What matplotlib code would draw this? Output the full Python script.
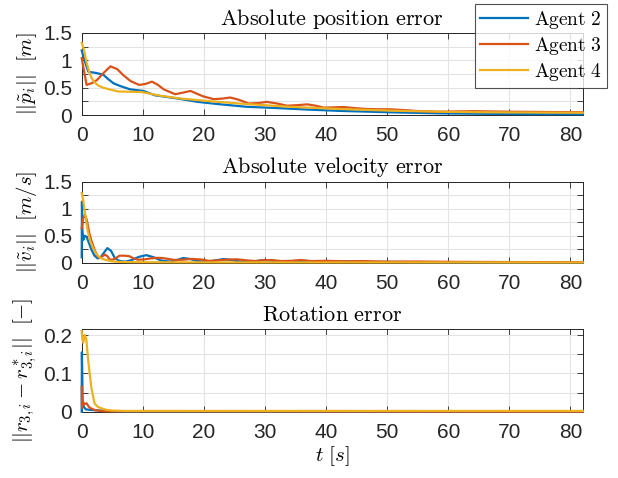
import matplotlib
matplotlib.use("Agg")
import matplotlib.pyplot as plt
from matplotlib.ticker import FixedLocator, FixedFormatter

plt.rcParams['font.family'] = ['Liberation Sans', 'DejaVu Sans']
plt.rcParams['mathtext.fontset'] = 'cm'

agents = ['Agent 2', 'Agent 3', 'Agent 4']
colors = ['#0072BD', '#D95319', '#EDB120']

# position error
t_pos_a2 = [0, 0.6, 1.1, 2.3, 3.5, 4.3, 5.2, 6.3, 7.9, 10.1, 12, 15.8, 19, 22.3, 27, 31.4, 36.9,
            42.3, 50.5, 58.7, 66, 74, 82]
pos_a2 = [1.18, 0.95, 0.79, 0.77, 0.74, 0.66, 0.58, 0.53, 0.47, 0.44, 0.36, 0.30, 0.24, 0.20, 0.15,
          0.13, 0.10, 0.075, 0.05, 0.03, 0.022, 0.016, 0.013]
t_pos_a3 = [0, 0.8, 1.6, 2.5, 3.5, 4.7, 5.8, 6.8, 8, 9.4, 10.5, 11.5, 12.5, 13.4, 15.3, 16.6, 17.8,
            19.9, 21.6, 23, 24.3, 25.7, 27.3, 29, 30.3, 32, 33.6, 35.3, 36.9, 38.3, 39.6, 41.2,
            42.8, 44.8, 46.7, 48.6, 50.5, 52.8, 55, 58.7, 64, 70, 76, 82]
pos_a3 = [1.04, 0.55, 0.58, 0.64, 0.76, 0.89, 0.84, 0.73, 0.62, 0.55, 0.57, 0.61, 0.55, 0.47,
          0.38, 0.41, 0.44, 0.34, 0.29, 0.30, 0.32, 0.28, 0.21, 0.22, 0.24, 0.21, 0.17, 0.18,
          0.195, 0.17, 0.135, 0.14, 0.146, 0.125, 0.11, 0.105, 0.104, 0.09, 0.073, 0.06, 0.07,
          0.06, 0.055, 0.05]
t_pos_a4 = [0, 0.4, 0.75, 1.2, 1.6, 2.1, 2.7, 3.5, 4.3, 6, 8, 9.8, 13, 16.3, 21.2, 27, 34.1, 42.3,
            50.5, 58.7, 66, 74, 82]
pos_a4 = [1.32, 1.18, 0.98, 0.80, 0.68, 0.60, 0.54, 0.50, 0.475, 0.43, 0.425, 0.42, 0.35, 0.30,
          0.25, 0.20, 0.15, 0.11, 0.08, 0.06, 0.05, 0.045, 0.042]

# velocity error
t_vel_a2 = [0, 0.04, 0.12, 0.25, 0.5, 0.8, 1.2, 1.6, 2.1, 2.6, 3.1, 3.6, 4.2, 4.8, 5.4, 6.2, 7.2,
            8.2, 9.4, 10.6, 11.8, 13, 14.5, 15.6, 16.6, 17.7, 19, 20.5, 21.8, 23.2, 24.6, 26,
            27.5, 28.8, 30, 31.3, 33, 34.8, 36.3, 38, 40, 42, 44, 47, 50, 55, 62, 70, 82]
vel_a2 = [0.1, 1.13, 0.6, 0.42, 0.5, 0.48, 0.36, 0.24, 0.13, 0.08, 0.1, 0.18, 0.27, 0.22, 0.09,
          0.03, 0.02, 0.05, 0.11, 0.14, 0.1, 0.04, 0.02, 0.05, 0.087, 0.07, 0.03, 0.015, 0.04,
          0.068, 0.05, 0.02, 0.015, 0.035, 0.05, 0.035, 0.012, 0.015, 0.035, 0.025, 0.01, 0.02,
          0.025, 0.012, 0.015, 0.01, 0.008, 0.006, 0.005]
t_vel_a3 = [0, 0.2, 0.5, 0.8, 1.3, 1.7, 2.1, 2.5, 2.95, 3.4, 3.8, 4.2, 4.6, 5.2, 6.2, 7.0, 7.8,
            8.5, 9.2, 10.2, 11.3, 12.3, 13.2, 14.2, 15.2, 16.5, 18, 19.5, 20.8, 22, 23.5, 25.4,
            27.3, 28.5, 29.5, 31, 32.7, 34.3, 35.8, 37.5, 40, 43, 46, 50, 55, 62, 70, 82]
vel_a3 = [0.64, 0.8, 0.89, 0.8, 0.52, 0.37, 0.24, 0.14, 0.087, 0.12, 0.15, 0.12, 0.056, 0.06,
          0.13, 0.13, 0.12, 0.08, 0.056, 0.06, 0.08, 0.09, 0.087, 0.07, 0.05, 0.055, 0.07, 0.06,
          0.035, 0.04, 0.055, 0.063, 0.04, 0.03, 0.045, 0.05, 0.03, 0.035, 0.05, 0.03, 0.035,
          0.025, 0.03, 0.02, 0.022, 0.015, 0.012, 0.01]
t_vel_a4 = [0, 0.25, 0.5, 0.75, 1.0, 1.4, 1.85, 2.3, 2.7, 3.2, 3.8, 4.9, 6, 8, 12, 20, 40, 82]
vel_a4 = [1.29, 1.15, 0.95, 0.76, 0.58, 0.40, 0.27, 0.18, 0.12, 0.08, 0.056, 0.026, 0.015, 0.01,
          0.008, 0.006, 0.005, 0.005]

# rotation error
t_rot_a2 = [0, 0.03, 0.15, 0.35, 0.7, 1.2, 2, 3, 4.5, 6, 10, 82]
rot_a2 = [0.0, 0.155, 0.03, 0.012, 0.006, 0.005, 0.004, 0.003, 0.002, 0.001, 0.0005, 0.0]
t_rot_a3 = [0, 0.05, 0.2, 0.5, 0.8, 1.2, 1.6, 2.2, 3, 4, 82]
rot_a3 = [0.065, 0.01, 0.025, 0.02, 0.022, 0.012, 0.008, 0.004, 0.002, 0.001, 0.0]
t_rot_a4 = [0, 0.1, 0.25, 0.5, 0.75, 1.03, 1.3, 1.6, 2.1, 2.6, 3.2, 4, 5, 7, 82]
rot_a4 = [0.21, 0.19, 0.18, 0.2, 0.19, 0.139, 0.10, 0.061, 0.022, 0.013, 0.009, 0.005, 0.003,
          0.002, 0.002]

x_ticks = [0, 10, 20, 30, 40, 50, 60, 70, 80]

fig = plt.figure(figsize=(6.18, 4.78), dpi=100)
ax1 = fig.add_axes([0.1322, 0.7594, 0.8107, 0.1716])
ax2 = fig.add_axes([0.1322, 0.4504, 0.8107, 0.1695])
ax3 = fig.add_axes([0.1322, 0.1387, 0.8107, 0.1730])

panels = [
    (ax1, [(t_pos_a2, pos_a2), (t_pos_a3, pos_a3), (t_pos_a4, pos_a4)],
     r'$\mathrm{Absolute\ position\ error}$', r'$||\tilde{p}_i||\ \ [m]$',
     1.5, [0, 0.25, 0.5, 0.75, 1, 1.25, 1.5], ['0', '', '0.5', '', '1', '', '1.5']),
    (ax2, [(t_vel_a2, vel_a2), (t_vel_a3, vel_a3), (t_vel_a4, vel_a4)],
     r'$\mathrm{Absolute\ velocity\ error}$', r'$||\tilde{v}_i||\ \ [m/s]$',
     1.5, [0, 0.25, 0.5, 0.75, 1, 1.25, 1.5], ['0', '', '0.5', '', '1', '', '1.5']),
    (ax3, [(t_rot_a2, rot_a2), (t_rot_a3, rot_a3), (t_rot_a4, rot_a4)],
     r'$\mathrm{Rotation\ error}$', r'$||r_{3,i}-r^*_{3,i}||\ \ [-]$',
     0.2157, [0, 0.05, 0.1, 0.15, 0.2], ['0', '', '0.1', '', '0.2']),
]

lines = []
for ax, series, title, ylabel, ymax, yt, ytl in panels:
    for (t, v), c, name in zip(series, colors, agents):
        ln, = ax.plot(t, v, color=c, lw=1.6, label=name, clip_on=False, zorder=3)
        if ax is ax1:
            lines.append(ln)
    ax.set_xlim(0, 82)
    ax.set_ylim(0, ymax)
    ax.xaxis.set_major_locator(FixedLocator(x_ticks))
    ax.yaxis.set_major_locator(FixedLocator(yt))
    ax.yaxis.set_major_formatter(FixedFormatter(ytl))
    ax.grid(True, color='#e3e3e3', lw=0.8)
    ax.set_axisbelow(True)
    ax.tick_params(direction='in', top=True, right=True, length=4, width=0.6,
                   labelsize=15, colors='#262626')
    ax.tick_params(axis='x', pad=8)
    ax.tick_params(axis='y', pad=7)
    for s in ax.spines.values():
        s.set_color('#262626')
        s.set_linewidth(0.7)
    ax.set_title(title, fontsize=16, pad=6)
    ax.set_ylabel(ylabel, fontsize=15, labelpad=3)

ax3.set_xlabel(r'$t\ [s]$', fontsize=15, labelpad=2)

leg = fig.legend(lines, [r'$\mathrm{Agent\ 2}$', r'$\mathrm{Agent\ 3}$', r'$\mathrm{Agent\ 4}$'],
                 loc='upper right', bbox_to_anchor=(607 / 618, 1 - 4 / 478),
                 fontsize=14, frameon=True, fancybox=False, edgecolor='#262626',
                 handlelength=2.5, handletextpad=0.3, labelspacing=0.2, borderpad=0.25,
                 borderaxespad=0)
leg.get_frame().set_linewidth(0.8)
leg.set_zorder(10)

fig.savefig('out.png', dpi=100)
